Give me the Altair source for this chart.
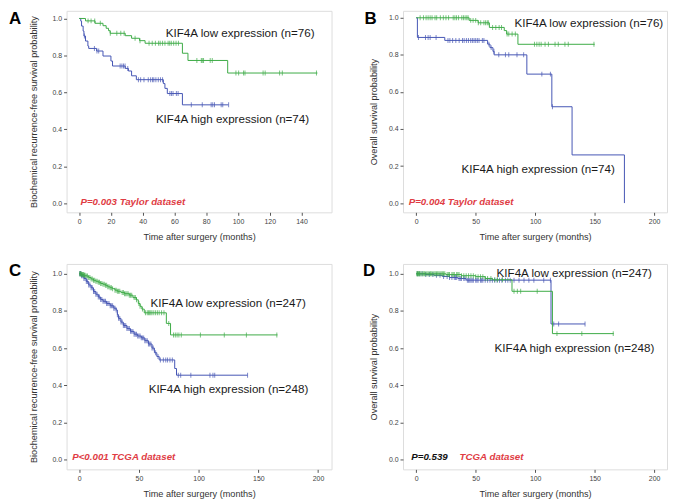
import altair as alt
import pandas as pd

GREEN = "#3dab47"
BLUE = "#4656b4"
RED = "#e03c44"
FONT = "Liberation Sans"

# ---------------- Panel A (Taylor, biochemical recurrence-free) ----------------
a_low_t = [0, 4, 10, 15, 17, 18.5, 19.5, 29, 33, 38, 41.5, 65, 68.5, 93.5, 150]
a_low_s = [1.0, 0.987, 0.974, 0.961, 0.947, 0.934, 0.92, 0.907, 0.893, 0.88, 0.866, 0.812, 0.773, 0.705, 0.705]
a_low_cens = [5.6, 7.5, 9.8, 13.3, 19.6, 23.7, 26.2, 28.3, 35.2, 38.3, 44, 46, 48, 50, 51, 52.5, 54, 56, 57, 58,
              59.5, 61, 62.5, 74.1, 76.9, 77.5, 78.3, 82.5, 83.8, 98.7, 100.4, 103.5, 104.4, 115.8, 117.1, 126.2,
              127.9, 149.4]
a_high_t = [0, 1, 1.5, 2.5, 3, 4, 5.5, 6, 11, 15, 20, 21, 29, 31, 33, 36, 53, 54, 55.5, 65, 94]
a_high_s = [1.0, 0.986, 0.959, 0.932, 0.905, 0.878, 0.851, 0.838, 0.824, 0.797, 0.77, 0.743, 0.73, 0.716, 0.69,
            0.669, 0.648, 0.622, 0.594, 0.533, 0.533]
a_high_cens = [3.3, 9.6, 11.2, 12.3, 25.8, 26.9, 27.9, 28.9, 30.6, 37.3, 38.7, 40.8, 43.5, 45, 46.2, 47, 48.3, 49.8,
               51.2, 52.5, 57.1, 58.1, 59.1, 61.2, 62.3, 70.6, 77.5, 83.1, 84.1, 85.2, 89.4, 90.4, 94.1]

# ---------------- Panel B (Taylor, overall survival) ----------------
b_low_t = [0, 44.5, 52, 61.5, 74, 76, 85.5, 150]
b_low_s = [1.0, 0.986, 0.973, 0.948, 0.931, 0.912, 0.857, 0.857]
b_low_cens = [3.3, 6.1, 8.3, 10, 11.7, 13.3, 15.8, 17.2, 20.3, 22.8, 25, 27.2, 31.1, 32.5, 33.9, 35.6, 38.3, 39.7,
              41.1, 42.5, 43.6, 45.8, 47.8, 50, 52.2, 54.2, 56.9, 58.3, 59.7, 60.6, 64.2, 66.9, 69.7, 71.7, 76.4,
              77.8, 80.6, 83.3, 99.4, 101.4, 103.3, 105, 108.3, 111.1, 116.7, 119.4, 125, 127.8, 149.4]
b_high_t = [0, 1, 24, 60, 62, 64.5, 65.5, 93, 114, 131, 175]
b_high_s = [1.0, 0.894, 0.878, 0.858, 0.839, 0.819, 0.8, 0.696, 0.52, 0.26, 0.0]
b_high_cens = [1.9, 7.8, 10, 11.7, 16.7, 26.7, 28.3, 30.6, 33.3, 36.1, 38.9, 40.3, 42.2, 43.9, 45.8, 47.2, 48.6, 50,
               51.4, 52.8, 55.6, 56.9, 61.1, 63, 65.3, 69.4, 75, 77.8, 84.7, 90.3, 105.6, 112.8, 114.5]

# ---------------- Panel C (TCGA, biochemical recurrence-free) ----------------
c_low_t = [0, 2, 4, 6, 8, 10, 12, 14, 16, 18, 20, 22, 24, 26, 28, 30, 32, 35, 38, 42, 45, 48, 49.5, 51, 52.5,
           54.5, 73, 76.5, 166]
c_low_s = [1.0, 0.996, 0.992, 0.988, 0.98, 0.972, 0.965, 0.96, 0.955, 0.948, 0.944, 0.938, 0.93, 0.925, 0.92,
           0.912, 0.906, 0.9, 0.893, 0.885, 0.872, 0.86, 0.84, 0.825, 0.81, 0.79, 0.733, 0.671, 0.671]
c_low_cens = [0.5, 1, 1.5, 2, 2.5, 3, 3.5, 4, 4.5, 5, 6, 7, 8, 9, 10, 11, 12, 13, 14, 15, 16, 17, 18, 19, 20, 21,
              22, 23, 24, 25, 26, 27, 28, 30, 31, 32, 33, 34, 36, 37, 38, 39, 40, 41, 42, 43, 44, 46, 47, 48, 50,
              51, 53, 55.5, 57, 58, 59, 60, 61, 62.5, 64, 65.5, 67, 69, 71, 75, 79, 80.5, 82, 83.5, 85.5, 101.5,
              121.5, 140, 165.5]
c_high_t = [0, 2, 4, 6, 8, 10, 12, 14, 16, 18, 20, 23, 26, 29, 31, 32, 33, 35, 37, 40, 43, 46, 49, 52, 55, 58,
            61, 63, 65, 67, 80, 81.5, 141]
c_high_s = [1.0, 0.99, 0.975, 0.958, 0.94, 0.925, 0.905, 0.89, 0.875, 0.862, 0.852, 0.84, 0.828, 0.815, 0.805,
            0.78, 0.76, 0.74, 0.722, 0.705, 0.69, 0.675, 0.665, 0.655, 0.64, 0.622, 0.6, 0.575, 0.555, 0.536,
            0.49, 0.454, 0.454]
c_high_cens = [0.5, 1, 1.5, 2, 3, 4, 5, 6, 7, 8, 9, 10, 11, 12, 13, 14, 15, 16, 17, 18, 19, 20, 21, 22, 23, 24,
               25, 26, 27, 28, 29, 30, 31, 32, 33, 34, 35, 36, 37, 38, 39, 40, 41, 42, 43, 44, 45, 46, 47, 48, 49,
               50, 51, 52, 53, 54, 55, 56, 57, 58, 59, 60, 61, 62, 64, 66, 68, 70.5, 72.5, 74, 76, 78, 83, 85,
               93.5, 109.5, 112, 113.5, 141]

# ---------------- Panel D (TCGA, overall survival) ----------------
d_low_t = [0, 25, 38, 50, 58, 64, 80.5, 114.5, 166]
d_low_s = [1.0, 0.996, 0.99, 0.985, 0.975, 0.968, 0.906, 0.678, 0.678]
d_low_cens = [0.5, 1, 1.5, 2, 2.5, 3, 4, 5, 6, 7, 8, 9, 10, 11, 12, 13, 14, 15, 16, 17, 18, 19, 20, 21, 22, 23,
              24, 26, 27, 28, 30, 31, 32, 34, 35, 36, 38, 40, 42, 44, 46, 48, 50, 52, 54, 56, 58, 60, 62.8, 66,
              68.3, 72.5, 82.2, 85, 87.8, 101.7, 118.3, 139.2, 165.6]
d_high_t = [0, 8, 15, 22, 28, 35, 42, 113.3, 142]
d_high_s = [1.0, 0.996, 0.992, 0.986, 0.98, 0.975, 0.966, 0.73, 0.73]
d_high_cens = [1, 3, 5, 8, 11, 14, 17, 20, 23, 26, 28, 30, 32, 33, 34, 36, 37, 38, 40, 41, 43, 44, 45, 46, 47, 48,
               50, 51, 52, 54, 55, 56, 58, 60, 62, 64, 66, 68, 70, 72, 75, 77, 79, 82.2, 86.4, 90.6, 94.7, 98.9,
               107.2, 112.8, 115.6, 119.7, 141.9]

# ---------------- Text ----------------
letters = ["A", "B", "C", "D"]
low_labels = ["KIF4A low expression (n=76)", "KIF4A low expression (n=76)",
              "KIF4A low expression (n=247)", "KIF4A low expression (n=247)"]
high_labels = ["KIF4A high expression (n=74)", "KIF4A high expression (n=74)",
               "KIF4A high expression (n=248)", "KIF4A high expression (n=248)"]
p_labels = ["P=0.003 Taylor dataset", "P=0.004 Taylor dataset", "P<0.001  TCGA dataset", "P=0.539"]
d_extra_label = "TCGA dataset"
y_titles = ["Biochemical recurrence-free survival probability", "Overall survival probability",
            "Biochemical recurrence-free survival probability", "Overall survival probability"]
x_title = "Time after surgery (months)"
xticks_a = [0, 20, 40, 60, 80, 100, 120, 140]
xticks_other = [0, 50, 100, 150, 200]
yticks = [0.0, 0.2, 0.4, 0.6, 0.8, 1.0]


def step_value(ts, ss, t):
    v = ss[0]
    for ti, si in zip(ts, ss):
        if ti <= t:
            v = si
        else:
            break
    return v


def txt(label, x, y, size, color, weight="normal", style="normal", baseline="middle"):
    return alt.Chart(pd.DataFrame({"label": [label]})).mark_text(
        align="left", baseline=baseline, fontSize=size, color=color,
        fontWeight=weight, fontStyle=style, font=FONT
    ).encode(x=alt.value(x), y=alt.value(y), text="label:N")


def panel(idx, curves, xdom, xticks, ydom, w, h, ytitle_x, pos):
    xs = alt.Scale(domain=xdom, nice=False, zero=False)
    ys = alt.Scale(domain=ydom, nice=False, zero=False)
    xaxis = alt.Axis(values=xticks, tickCount=len(xticks), format="d", title=x_title, grid=False, domain=False,
                     labelOverlap=False, labelFlush=False,
                     labelFontSize=7, labelColor="#444", tickColor="#555", tickSize=3, labelPadding=2,
                     titleFontSize=9.2, titleFontWeight="normal", titleColor="#333",
                     titleY=24, titleBaseline="middle", labelFont=FONT, titleFont=FONT)
    yaxis = alt.Axis(values=yticks, tickCount=len(yticks), format=".1f", title=y_titles[idx], grid=False,
                     domain=False, labelOverlap=False, labelFlush=False,
                     labelFontSize=7, labelColor="#444", tickColor="#555", tickSize=3, labelPadding=2,
                     titleFontSize=9.2, titleFontWeight="normal", titleColor="#333",
                     titleX=ytitle_x, titleBaseline="middle", labelFont=FONT, titleFont=FONT)
    layers = []
    for ts, ss, cens, col in curves:
        df = pd.DataFrame({"t": ts, "s": ss})
        cdf = pd.DataFrame({"t": cens, "s": [step_value(ts, ss, c) for c in cens]})
        enc_x = alt.X("t:Q", scale=xs, axis=xaxis)
        enc_y = alt.Y("s:Q", scale=ys, axis=yaxis)
        layers.append(alt.Chart(df).mark_line(interpolate="step-after", strokeWidth=1, color=col)
                      .encode(x=enc_x, y=enc_y))
        layers.append(alt.Chart(cdf).mark_tick(orient="vertical", size=5, thickness=1, color=col)
                      .encode(x=enc_x, y=enc_y))
    (lx, ly), (hx, hy), (px, py), (Lx, Ly) = pos
    layers.append(txt(low_labels[idx], lx, ly, 11.7, "#1a1a1a"))
    layers.append(txt(high_labels[idx], hx, hy, 11.7, "#1a1a1a"))
    if idx == 3:
        layers.append(txt(p_labels[idx], px, py, 9.8, "#111", weight="bold", style="italic"))
        layers.append(txt(d_extra_label, px + 48.7, py, 9.8, RED, weight="bold", style="italic"))
    else:
        layers.append(txt(p_labels[idx], px, py, 9.8, RED, weight="bold", style="italic"))
    layers.append(txt(letters[idx], Lx, Ly, 17, "#000", weight="bold", baseline="alphabetic"))
    return alt.layer(*layers).properties(width=w, height=h)


pa = panel(0, [(a_high_t, a_high_s, a_high_cens, BLUE), (a_low_t, a_low_s, a_low_cens, GREEN)],
           [-7.94, 158.9], xticks_a, [-0.0483, 1.0413], 267, 203, -33,
           [(100, 22), (90, 109), (14, 192.7), (-58, 13.5)])
pb = panel(1, [(b_high_t, b_high_s, b_high_cens, BLUE), (b_low_t, b_low_s, b_low_cens, GREEN)],
           [-11.1, 210.8], xticks_other, [-0.0498, 1.0375], 266, 203, -29.5,
           [(112.3, 12.7), (59, 159.7), (5.7, 192.7), (-38.7, 13.5)])
pc = panel(2, [(c_high_t, c_high_s, c_high_cens, BLUE), (c_low_t, c_low_s, c_low_cens, GREEN)],
           [-10.55, 211.3], xticks_other, [-0.0534, 1.0534], 267, 207, -33,
           [(84.7, 39.6), (82.7, 125.6), (5.7, 194.6), (-58, 12.5)])
pdd = panel(3, [(d_high_t, d_high_s, d_high_cens, BLUE), (d_low_t, d_low_s, d_low_cens, GREEN)],
            [-11.1, 210.8], xticks_other, [-0.0534, 1.0534], 266, 207, -29.5,
            [(94.3, 9.6), (92.3, 85), (8.3, 194.6), (-40.3, 12.5)])

chart = alt.concat(pa, pb, pc, pdd, columns=2, spacing={"row": 52, "column": 72}, bounds="flush").properties(
    padding=0
).configure_view(stroke="#555", strokeWidth=1).configure_axis(labelOverlap=False).configure(font=FONT)

chart.save("out.html", embed_options={"renderer": "svg", "actions": False})
